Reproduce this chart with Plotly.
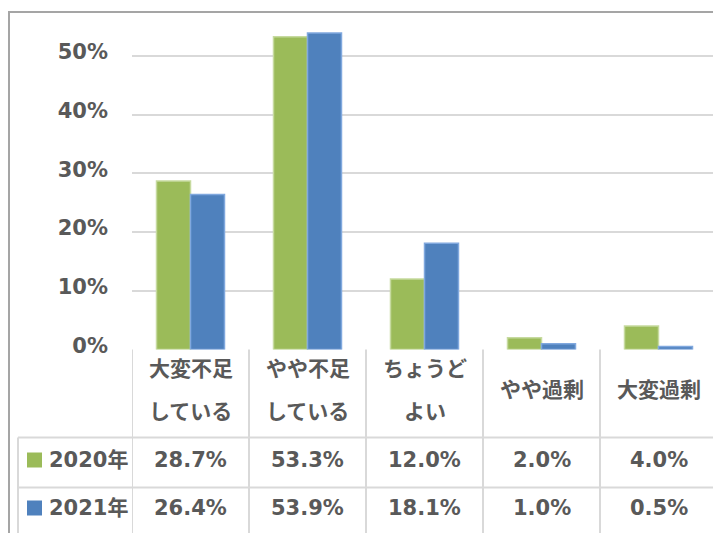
import plotly.graph_objects as go

# ---- data ----
category_lines = [["大変不足", "している"], ["やや不足", "している"], ["ちょうど", "よい"], ["やや過剰"], ["大変過剰"]]
categories = ["".join(l) for l in category_lines]
series_names = ["2020年", "2021年"]
values_2020 = [28.7, 53.3, 12.0, 2.0, 4.0]
values_2021 = [26.4, 53.9, 18.1, 1.0, 0.5]
y_ticks = [0, 10, 20, 30, 40, 50]

W, H = 713, 533
GREEN, BLUE = "#9bbb59", "#4f81bd"
TXT = "#595959"
GRID = "#d9d9d9"
FONT = "DejaVu Sans, Noto Sans CJK JP, sans-serif"
FS = 21


def px(x):
    return x / W


def py(y):
    return 1 - y / H


x_idx = list(range(len(categories)))
fig = go.Figure()
fig.add_bar(x=x_idx, y=[v / 100 for v in values_2020], name=series_names[0],
            marker=dict(color=GREEN, line=dict(color="#c6da9f", width=1.5)))
fig.add_bar(x=x_idx, y=[v / 100 for v in values_2021], name=series_names[1],
            marker=dict(color=BLUE, line=dict(color="#80a8de", width=1.5)))

cat_w = 117.0
plot_left = 132.0
plot_w = W - plot_left
y0_px, y50_px = 349.5, 56.0
per10 = (y0_px - y50_px) / 5
top_px = 12.0
ymax = (y0_px - top_px) / per10 * 0.1

fig.update_layout(
    width=W, height=H,
    margin=dict(l=0, r=0, t=0, b=0, autoexpand=False),
    paper_bgcolor="white", plot_bgcolor="white",
    showlegend=False,
    barmode="group", bargap=1 - 68 / cat_w, bargroupgap=0,
    font=dict(family=FONT, size=FS, color=TXT),
    xaxis=dict(domain=[px(plot_left), 1], range=[-0.5, -0.5 + plot_w / cat_w],
               showticklabels=False, showgrid=False, zeroline=False, showline=False, fixedrange=True),
    yaxis=dict(domain=[py(y0_px), py(top_px)], range=[0, ymax],
               tickvals=[t / 100 for t in y_ticks], ticktext=[f"{t}%" for t in y_ticks],
               tickfont=dict(family=FONT, size=FS, color=TXT, weight="bold"),
               showgrid=True, gridcolor=GRID, gridwidth=2, zeroline=False, showline=False,
               ticklabelstandoff=23, ticklabelshift=-4, fixedrange=True),
)

shapes = []
line = dict(color=GRID, width=2)
# vertical table lines
for k in range(len(categories) + 1):
    shapes.append(dict(type="line", xref="x", yref="paper", x0=k - 0.5, x1=k - 0.5,
                       y0=py(y0_px), y1=py(H + 10), line=line))
# horizontal row lines
for yy in [437.5, 487.5]:
    shapes.append(dict(type="line", xref="paper", yref="paper", x0=px(18), x1=px(W + 10),
                       y0=py(yy), y1=py(yy), line=line))
shapes.append(dict(type="line", xref="paper", yref="paper", x0=px(18), x1=px(18),
                   y0=py(437.5), y1=py(H + 10), line=line))
# outer chart border
shapes.append(dict(type="rect", xref="paper", yref="paper", x0=px(9), x1=px(W + 10),
                   y0=py(H + 10), y1=py(12), line=dict(color="#a5a5a5", width=2)))
# legend keys
row_y = [460, 508]
for c, ry in zip([GREEN, BLUE], row_y):
    shapes.append(dict(type="rect", xref="paper", yref="paper", x0=px(27), x1=px(42),
                       y0=py(ry + 7.5), y1=py(ry - 7.5), fillcolor=c,
                       line=dict(color=c, width=0)))
fig.update_layout(shapes=shapes)

ann = []
bold = dict(family=FONT, size=FS, color=TXT, weight="bold")
for i, lines in enumerate(category_lines):
    ys = [369, 412] if len(lines) == 2 else [390]
    for t, yy in zip(lines, ys):
        ann.append(dict(x=i, xref="x", y=py(yy), yref="paper", text=t, showarrow=False,
                        xanchor="center", yanchor="middle", font=bold))
for name, vals, ry in zip(series_names, [values_2020, values_2021], row_y):
    ann.append(dict(x=px(47), xref="paper", y=py(ry), yref="paper", text=name, showarrow=False,
                    xanchor="left", yanchor="middle", font=bold))
    for i, v in enumerate(vals):
        ann.append(dict(x=i, xref="x", y=py(ry), yref="paper", text=f"{v:.1f}%", showarrow=False,
                        xanchor="center", yanchor="middle", font=bold))
fig.update_layout(annotations=ann)

fig.write_html(
    "out.html",
    config={"displayModeBar": False},
    post_script="document.body.style.margin='0';document.body.style.overflow='hidden';",
)
